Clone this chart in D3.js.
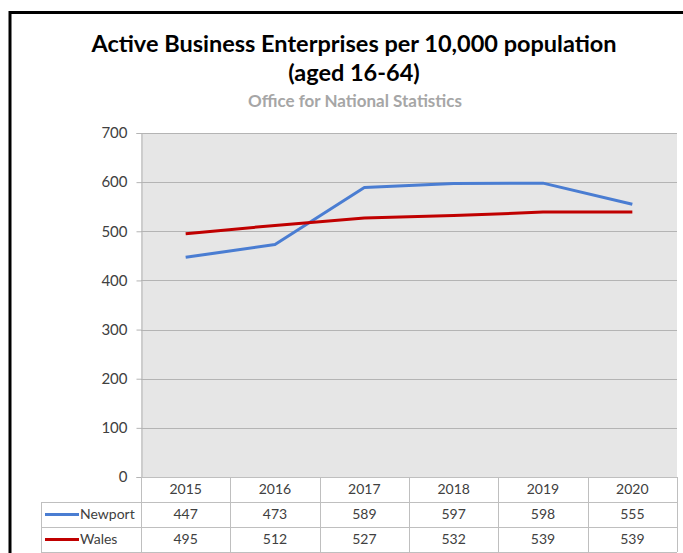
<!DOCTYPE html>
<html>
<head>
<meta charset="utf-8">
<script src="https://cdn.jsdelivr.net/npm/d3@7"></script>
<style>
    body { margin: 0; background: #fff; }
    svg { display: block; font-family: Lato, "Open Sans", sans-serif; }
</style>
</head>
<body>
<svg id="chart" width="683" height="553"></svg>
<script>
const years = ["2015", "2016", "2017", "2018", "2019", "2020"];
const newport = [447, 473, 589, 597, 598, 555];
const wales = [495, 512, 527, 532, 539, 539];
const yTicks = [0, 100, 200, 300, 400, 500, 600, 700];

const series = [
    { name: "Newport", values: newport, color: "#4a7dd2" },
    { name: "Wales", values: wales, color: "#c00000" }
];

const margins = { left: 141, right: 677, top: 133, bottom: 477 };
const rowHeight = 25;
const tableLeft = 41;

const svg = d3.select("#chart");

// outer frame (cut off at right/bottom like the screenshot)
svg.append("rect")
    .attr("x", 10).attr("y", 12.5)
    .attr("width", 700).attr("height", 600)
    .attr("fill", "none")
    .attr("stroke", "#000")
    .attr("stroke-width", 3);

// titles
svg.append("text")
    .attr("x", 354).attr("y", 52)
    .attr("text-anchor", "middle")
    .attr("font-size", 23.5).attr("font-weight", "bold")
    .attr("fill", "#000")
    .text("Active Business Enterprises per 10,000 population");
svg.append("text")
    .attr("x", 354).attr("y", 81)
    .attr("text-anchor", "middle")
    .attr("font-size", 23.5).attr("font-weight", "bold")
    .attr("fill", "#000")
    .text("(aged 16-64)");
svg.append("text")
    .attr("x", 355).attr("y", 107)
    .attr("text-anchor", "middle")
    .attr("font-size", 17).attr("font-weight", "bold")
    .attr("fill", "#a6a6a6")
    .text("Office for National Statistics");

const xScale = d3.scaleBand().domain(years).range([margins.left, margins.right]);
const yScale = d3.scaleLinear().domain([0, 700]).range([margins.bottom, margins.top]);

// plot background
svg.append("rect")
    .attr("x", margins.left).attr("y", margins.top)
    .attr("width", margins.right - margins.left)
    .attr("height", margins.bottom - margins.top)
    .attr("fill", "#e6e6e6");

// grid lines
svg.append("g")
    .selectAll("line")
    .data(yTicks.filter((d) => d > 0))
    .enter()
    .append("line")
    .attr("x1", margins.left).attr("x2", margins.right)
    .attr("y1", (d) => Math.round(yScale(d)) + 0.5)
    .attr("y2", (d) => Math.round(yScale(d)) + 0.5)
    .attr("stroke", "#b4b4b4");

// y axis
const yAxis = svg.append("g")
    .attr("transform", `translate(${margins.left + 0.5},0)`)
    .call(d3.axisLeft(yScale).tickValues(yTicks).tickSize(5).tickPadding(9));
yAxis.select(".domain").attr("stroke", "#b4b4b4");
yAxis.selectAll(".tick line").attr("stroke", "#b4b4b4");
yAxis.selectAll("text")
    .attr("font-size", 15)
    .attr("font-family", "Lato, sans-serif")
    .attr("fill", "#404040");

// lines
const line = d3.line()
    .x((d, i) => xScale(years[i]) + xScale.bandwidth() / 2)
    .y((d) => yScale(d));

svg.append("g")
    .selectAll("path")
    .data(series)
    .enter()
    .append("path")
    .attr("d", (d) => line(d.values))
    .attr("fill", "none")
    .attr("stroke", (d) => d.color)
    .attr("stroke-width", 3)
    .attr("stroke-linejoin", "round");

// data table
const table = svg.append("g").attr("class", "data-table");
const gridColor = "#bfbfbf";
const tableBottom = margins.bottom + rowHeight * 3;

// horizontal lines
[margins.bottom + rowHeight, margins.bottom + rowHeight * 2, tableBottom].forEach((y) => {
    table.append("line")
        .attr("x1", tableLeft).attr("x2", margins.right)
        .attr("y1", y + 0.5).attr("y2", y + 0.5)
        .attr("stroke", gridColor);
});
table.append("line")
    .attr("x1", margins.left).attr("x2", margins.right)
    .attr("y1", margins.bottom + 0.5).attr("y2", margins.bottom + 0.5)
    .attr("stroke", gridColor);

// vertical lines
const colEdges = years.map((y) => xScale(y)).concat([margins.right]);
colEdges.forEach((x) => {
    table.append("line")
        .attr("x1", Math.round(x) + 0.5).attr("x2", Math.round(x) + 0.5)
        .attr("y1", margins.bottom).attr("y2", tableBottom)
        .attr("stroke", gridColor);
});
table.append("line")
    .attr("x1", tableLeft + 0.5).attr("x2", tableLeft + 0.5)
    .attr("y1", margins.bottom + rowHeight).attr("y2", tableBottom)
    .attr("stroke", gridColor);

// header years
table.selectAll(".year")
    .data(years)
    .enter()
    .append("text")
    .attr("class", "year")
    .attr("x", (d) => xScale(d) + xScale.bandwidth() / 2)
    .attr("y", margins.bottom + rowHeight / 2)
    .attr("dy", "0.35em")
    .attr("text-anchor", "middle")
    .attr("font-size", 14)
    .attr("fill", "#404040")
    .text((d) => d);

// series rows
series.forEach((s, r) => {
    const rowY = margins.bottom + rowHeight * (r + 1);
    table.append("line")
        .attr("x1", tableLeft + 4).attr("x2", tableLeft + 38)
        .attr("y1", rowY + rowHeight / 2).attr("y2", rowY + rowHeight / 2)
        .attr("stroke", s.color)
        .attr("stroke-width", 3);
    table.append("text")
        .attr("x", tableLeft + 39)
        .attr("y", rowY + rowHeight / 2)
        .attr("dy", "0.35em")
        .attr("font-size", 14)
        .attr("fill", "#404040")
        .text(s.name);
    table.selectAll(".val-" + r)
        .data(s.values)
        .enter()
        .append("text")
        .attr("x", (d, i) => xScale(years[i]) + xScale.bandwidth() / 2)
        .attr("y", rowY + rowHeight / 2)
        .attr("dy", "0.35em")
        .attr("text-anchor", "middle")
        .attr("font-size", 14)
        .attr("fill", "#404040")
        .text((d) => d);
});
</script>
</body>
</html>
